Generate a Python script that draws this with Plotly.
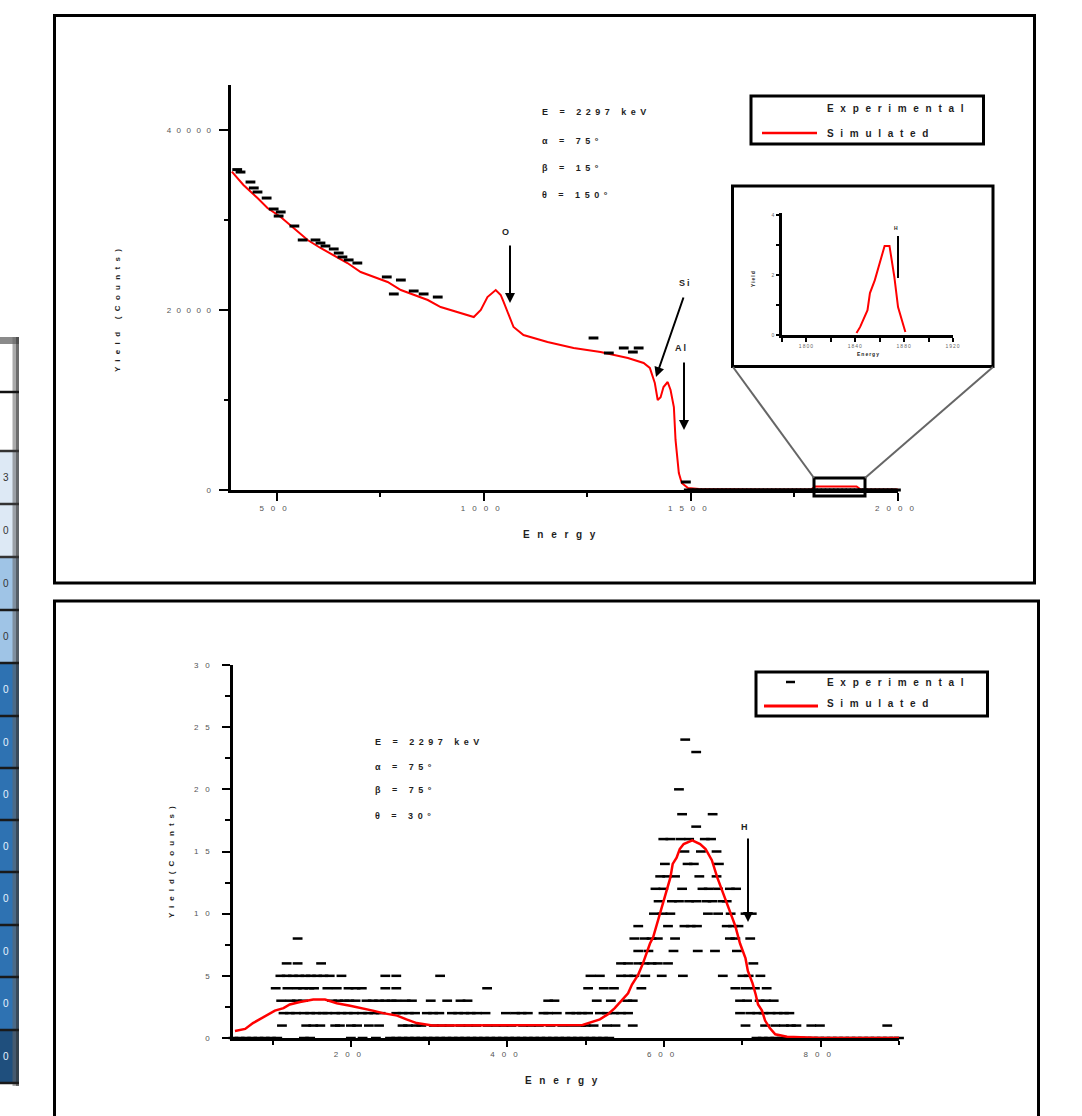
import plotly.graph_objects as go

W, H = 1082, 1116

# ---------------- data: top spectrum (E = 2297 keV, theta = 150) ----------------
sim_top_e = [392, 420, 454, 478, 510, 541, 575, 606, 638, 671, 703, 735, 768, 800, 831, 865, 896, 927,
             976, 993, 1009, 1029, 1041, 1048, 1058, 1072, 1096, 1154, 1217, 1282, 1348, 1386, 1401,
             1413, 1420, 1427, 1434, 1444, 1451, 1459, 1463, 1471, 1478, 1493, 1520, 1600, 1700, 1790,
             1800, 1850, 1900, 1910, 2000]
sim_top_y = [35370, 33890, 32440, 31330, 30330, 29110, 27780, 26890, 26110, 25220, 24220, 23670, 23110,
             22220, 21670, 21110, 20330, 19890, 19220, 20000, 21440, 22220, 21670, 20890, 19670, 18110,
             17220, 16440, 15780, 15330, 14670, 14110, 13560, 11890, 10000, 10300, 11440, 12000, 11110,
             9220, 5560, 1890, 780, 220, 100, 50, 50, 50, 400, 400, 400, 50, 50]

exp_top_e = [405, 413, 437, 445, 454, 476, 493, 505, 510, 543, 563, 594, 606, 618, 638, 650, 659, 674,
             695, 766, 783, 800, 831, 855, 889, 1265, 1302, 1338, 1360, 1374, 1488]
exp_top_y = [35600, 35330, 34220, 33560, 33110, 32440, 31220, 30440, 30890, 29330, 27780, 27780, 27440,
             27110, 26780, 26330, 25890, 25560, 25220, 23670, 21780, 23330, 22110, 21780, 21440, 16890,
             15220, 15780, 15330, 15780, 890]
exp_top_zero_e = [1495, 1505, 1515, 1525, 1535, 1545, 1555, 1565, 1575, 1585, 1595, 1605, 1615, 1625,
                  1635, 1645, 1655, 1665, 1675, 1685, 1695, 1705, 1715, 1725, 1735, 1745, 1755, 1765,
                  1775, 1785, 1795, 1805, 1815, 1825, 1835, 1845, 1855, 1865, 1875, 1885, 1895, 1905,
                  1915, 1925, 1935, 1945, 1955, 1965, 1975, 1985, 1995]

top_xticks = [500, 1000, 1500, 2000]
top_yticks = [0, 20000, 40000]

# inset (zoom of the boxed region)
inset_e = [1841, 1844, 1850, 1852, 1856, 1859, 1862, 1864, 1868, 1870, 1872, 1875, 1878, 1881]
inset_y = [0.07, 0.27, 0.83, 1.4, 1.83, 2.27, 2.67, 2.97, 2.97, 2.5, 1.93, 0.93, 0.5, 0.1]
inset_xticks = [1800, 1840, 1880, 1920]
inset_yticks = [0, 2, 4]

# ---------------- data: bottom spectrum (E = 2297 keV, theta = 30) ----------------
sim_bot_e = [52, 65, 75, 87, 95, 103, 114, 122, 135, 152, 167, 182, 199, 215, 228, 241, 259, 271, 284,
             304, 369, 454, 496, 518, 528, 537, 546, 554, 559, 567, 573, 578, 582, 586, 591, 595, 599,
             604, 608, 611, 616, 620, 625, 636, 646, 653, 661, 668, 674, 680, 687, 691, 697, 704, 707,
             713, 717, 720, 725, 729, 735, 742, 757, 800, 900]
sim_bot_y = [0.56, 0.73, 1.2, 1.6, 1.9, 2.2, 2.4, 2.7, 2.9, 3.1, 3.1, 2.8, 2.6, 2.4, 2.2, 2.0, 1.8, 1.5,
             1.2, 1.0, 1.0, 1.0, 1.05, 1.5, 1.9, 2.4, 3.0, 3.6, 4.3, 5.1, 6.0, 7.0, 7.6, 8.1, 9.2, 10.0,
             11.0, 12.1, 12.9, 14.0, 14.5, 15.2, 15.6, 15.9, 15.6, 15.2, 14.3, 12.9, 11.9, 11.0, 9.8, 9.0,
             7.6, 6.4, 5.4, 4.4, 3.5, 2.7, 2.2, 1.4, 0.8, 0.3, 0.1, 0.0, 0.0]

cnt0_e = [50, 58, 66, 74, 82, 90, 98, 106, 140, 148, 200, 215, 232,
          250, 258, 266, 274, 282, 290, 298, 306, 314, 322, 330, 338, 346, 354, 362, 370, 378, 386, 394,
          402, 410, 418, 426, 434, 442, 450, 458, 466, 474, 482, 490, 498, 506, 514, 522, 530,
          718, 726, 734, 742, 750, 758, 766, 774, 782, 790, 798, 806, 814, 822, 830, 838, 846, 854, 862,
          870, 878, 886, 894, 900]
cnt1_e = [112, 143, 152, 161, 180, 186, 200, 208, 223, 236, 266, 273, 283, 290, 306, 316, 326, 340, 350,
          360, 375, 385, 395, 405, 420, 430, 440, 455, 470, 482, 494, 500, 510, 527, 538, 560, 704, 729,
          742, 753, 762, 769, 788, 799, 885]
cnt2_e = [114, 122, 130, 140, 148, 156, 164, 170, 180, 188, 196, 204, 214, 222, 230, 238, 258, 266, 274,
          282, 297, 305, 313, 329, 337, 345, 353, 361, 372, 398, 410, 418, 426, 446, 452, 463, 480, 488,
          495, 503, 518, 527, 536, 545, 554, 697, 710, 719, 727, 736, 745, 753, 760]
cnt3_e = [111, 123, 131, 139, 176, 184, 192, 198, 206, 220, 228, 236, 244, 252, 258, 270, 278, 302, 323,
          340, 349, 452, 460, 514, 532, 553, 560, 697, 706, 722, 730, 740]
cnt4_e = [104, 119, 131, 139, 147, 153, 170, 182, 197, 206, 214, 244, 258, 374, 503, 523, 536, 571, 691,
          704, 716, 731]
cnt5_e = [110, 118, 126, 134, 142, 149, 157, 165, 173, 188, 244, 258, 314, 506, 518, 545, 554, 562, 576,
          597, 624, 675, 700, 708, 723]
cnt6_e = [118, 132, 162, 545, 554, 567, 575, 584, 592, 605, 714]
cnt7_e = [567, 580, 612, 643, 665, 693]
cnt8_e = [132, 562, 575, 584, 592, 614, 684, 691, 710]
cnt9_e = [567, 605, 626, 634, 642, 680, 688, 695]
cnt10_e = [587, 598, 608, 656, 669, 685, 704, 712]
cnt11_e = [593, 610, 619, 632, 641, 654, 662, 675, 680]
cnt12_e = [589, 599, 623, 649, 657, 669, 684, 692]
cnt13_e = [595, 604, 614, 645, 667]
cnt14_e = [601, 630, 638, 670]
cnt15_e = [626, 647, 667]
cnt16_e = [599, 608, 621, 632, 652, 660]
cnt17_e = [641]
cnt18_e = [623, 662]
cnt20_e = [619]
cnt23_e = [641]
cnt24_e = [627]

bot_xticks = [200, 400, 600, 800]
bot_yticks = [0, 5, 10, 15, 20, 25, 30]

# partial table at the left edge
table_digits = ["3", "0", "0", "0", "0", "0", "0", "0", "0", "0", "0", "0"]

# ---------------- build ----------------
rows = [(0, cnt0_e), (1, cnt1_e), (2, cnt2_e), (3, cnt3_e), (4, cnt4_e), (5, cnt5_e), (6, cnt6_e),
        (7, cnt7_e), (8, cnt8_e), (9, cnt9_e), (10, cnt10_e), (11, cnt11_e), (12, cnt12_e),
        (13, cnt13_e), (14, cnt14_e), (15, cnt15_e), (16, cnt16_e), (17, cnt17_e), (18, cnt18_e),
        (20, cnt20_e), (23, cnt23_e), (24, cnt24_e)]
exp_bot_e, exp_bot_c = [], []
for c, es in rows:
    exp_bot_e += es
    exp_bot_c += [c] * len(es)


def fx(p):
    return p / W


def fy(p):
    return 1 - p / H


FONT = "Liberation Sans, Arial, sans-serif"
TXT = "#1e1e1e"


def sp(text, ls):
    return '<span style="letter-spacing:%spx">%s</span>' % (ls, text)


fig = go.Figure()

# top chart
fig.add_trace(go.Scatter(x=sim_top_e, y=sim_top_y, mode="lines", line=dict(color="#ff0000", width=2),
                         xaxis="x", yaxis="y", showlegend=False, cliponaxis=False))
fig.add_trace(go.Scatter(x=exp_top_e + exp_top_zero_e, y=exp_top_y + [0] * len(exp_top_zero_e),
                         mode="markers", xaxis="x", yaxis="y", showlegend=False, cliponaxis=False,
                         marker=dict(symbol="line-ew", size=7, line=dict(width=3, color="black"))))
# inset
fig.add_trace(go.Scatter(x=inset_e, y=inset_y, mode="lines", line=dict(color="#ff0000", width=2),
                         xaxis="x3", yaxis="y3", showlegend=False))
# bottom chart
fig.add_trace(go.Scatter(x=exp_bot_e, y=exp_bot_c, mode="markers", xaxis="x2", yaxis="y2",
                         showlegend=False, cliponaxis=False,
                         marker=dict(symbol="line-ew", size=7, line=dict(width=2.5, color="black"))))
fig.add_trace(go.Scatter(x=sim_bot_e, y=sim_bot_y, mode="lines", line=dict(color="#ff0000", width=2.5),
                         xaxis="x2", yaxis="y2", showlegend=False, cliponaxis=False))

tickfont = dict(family=FONT, size=8, color="#555")
common = dict(showline=True, linecolor="black", linewidth=3, ticks="outside", tickcolor="black",
              tickwidth=2, showgrid=False, zeroline=False, tickfont=tickfont, tickmode="array",
              automargin=False)


def lbl(vals, ls=7):
    return [sp(str(v), ls) for v in vals]


fig.update_layout(
    width=W, height=H, margin=dict(l=0, r=0, t=0, b=0, pad=0, autoexpand=False), autosize=False,
    paper_bgcolor="white", plot_bgcolor="rgba(0,0,0,0)",
    xaxis=dict(common, domain=[fx(231), fx(898)], range=[390, 2000], anchor="y",
               tickvals=top_xticks, ticktext=lbl(top_xticks), ticklen=8, ticklabelstandoff=0,
               minor=dict(tickvals=[750, 1250, 1750], ticks="outside", ticklen=4, tickwidth=2,
                          tickcolor="black")),
    yaxis=dict(common, domain=[fy(490), fy(85)], range=[0, 45000], anchor="x",
               tickvals=top_yticks, ticktext=lbl(top_yticks, 5.5), ticklen=9, ticklabelstandoff=1,
               minor=dict(tickvals=[10000, 30000], ticks="outside", ticklen=4, tickwidth=2,
                          tickcolor="black")),
    xaxis3=dict(common, domain=[fx(782), fx(953)], range=[1780, 1920], anchor="y3", linewidth=2.5,
                tickvals=inset_xticks, ticktext=lbl(inset_xticks, 1), ticklen=4,
                tickfont=dict(family=FONT, size=5, color="#666"),
                minor=dict(tickvals=[1780, 1820, 1860, 1900], ticks="outside", ticklen=4, tickwidth=2,
                           tickcolor="black")),
    yaxis3=dict(common, domain=[fy(335), fy(213)], range=[0, 4.07], anchor="x3", linewidth=2.5,
                tickvals=inset_yticks, ticktext=lbl(inset_yticks, 1), ticklen=3,
                tickfont=dict(family=FONT, size=5, color="#666"),
                minor=dict(tickvals=[1, 3], ticks="outside", ticklen=3, tickwidth=2, tickcolor="black")),
    xaxis2=dict(common, domain=[fx(233.4), fx(899)], range=[50, 900], anchor="y2",
                tickvals=bot_xticks, ticktext=lbl(bot_xticks), ticklen=6, ticklabelstandoff=0,
                minor=dict(tickvals=[100, 300, 500, 700, 900], ticks="outside", ticklen=4, tickwidth=2,
                           tickcolor="black")),
    yaxis2=dict(common, domain=[fy(1038), fy(665)], range=[0, 30], anchor="x2",
                tickvals=bot_yticks, ticktext=lbl(bot_yticks, 7), ticklen=8, ticklabelstandoff=4,
                minor=dict(tickvals=[2.5, 7.5, 12.5, 17.5, 22.5, 27.5], ticks="outside", ticklen=5,
                           tickwidth=2, tickcolor="black")),
)

shapes = []


def rect(x0, y0, x1, y1, color="black", width=3, fill=None, layer="above"):
    shapes.append(dict(type="rect", xref="paper", yref="paper", x0=fx(x0), x1=fx(x1), y0=fy(y1),
                       y1=fy(y0), line=dict(color=color, width=width),
                       fillcolor=fill if fill else "rgba(0,0,0,0)", layer=layer))


def seg(x0, y0, x1, y1, color="black", width=2):
    shapes.append(dict(type="line", xref="paper", yref="paper", x0=fx(x0), x1=fx(x1), y0=fy(y0),
                       y1=fy(y1), line=dict(color=color, width=width)))


# outer frames (the lower one runs past the bottom edge of the page)
rect(54.5, 15.5, 1034.5, 583, width=3)
rect(54.5, 601, 1038.5, 1130, width=3)
# top legend box & line
rect(751, 96, 983.5, 144, width=3)
seg(762, 133, 817, 133, color="#ff0000", width=2.5)
# bottom legend box, marker & line
rect(756, 672, 987.5, 716, width=3)
seg(786, 682, 795, 682, color="black", width=2.5)
seg(764, 706, 818, 706, color="#ff0000", width=3)
# inset frame, zoom box and connectors
rect(732.5, 186, 993, 366.5, width=3)
rect(814, 478, 865, 496, width=3)
seg(733, 367, 814, 478, color="#666", width=2)
seg(993, 367, 865, 478, color="#666", width=2)
seg(898, 236, 898, 278, color="black", width=2)

# left partial table
row_edges = [451, 504, 557, 610, 663, 716, 768, 820, 872, 925, 977, 1030, 1083]
row_fill = ["#dde9f5", "#dde9f5", "#9fc4e6", "#9fc4e6", "#2e72b2", "#2e72b2", "#2e72b2", "#2e72b2",
            "#2e72b2", "#2e72b2", "#2e72b2", "#1f4f7d"]
shapes.append(dict(type="rect", xref="paper", yref="paper", x0=0, x1=fx(19), y0=fy(344), y1=fy(337),
                   line=dict(width=0), fillcolor="#8a8a8a"))
for i in range(len(row_fill)):
    shapes.append(dict(type="rect", xref="paper", yref="paper", x0=0, x1=fx(19), y0=fy(row_edges[i + 1]),
                       y1=fy(row_edges[i]), line=dict(width=0), fillcolor=row_fill[i]))
shapes.append(dict(type="rect", xref="paper", yref="paper", x0=fx(12.5), x1=fx(16), y0=fy(1086), y1=fy(337),
                   line=dict(width=0), fillcolor="rgba(100,100,100,0.55)"))
shapes.append(dict(type="rect", xref="paper", yref="paper", x0=fx(16), x1=fx(19), y0=fy(1086), y1=fy(337),
                   line=dict(width=0), fillcolor="rgba(60,60,60,0.75)"))
seg(0, 392, 19, 392, color="#111", width=2.5)
for e in row_edges:
    seg(0, e, 19, e, color="#1a1a1a" if e > 600 else "#333", width=2.5)

fig.update_layout(shapes=shapes)

ann = []


def note(text, x, y, size=9, bold=False, xanchor="left", ls=4, angle=0, color=TXT):
    t = sp(text, ls) if ls else text
    if bold:
        t = "<b>" + t + "</b>"
    ann.append(dict(text=t, x=fx(x), y=fy(y), xref="paper", yref="paper", showarrow=False,
                    xanchor=xanchor, yanchor="middle", textangle=angle,
                    font=dict(family=FONT, size=size, color=color)))


def arrow(x0, y0, x1, y1):
    ann.append(dict(text="", x=fx(x1), y=fy(y1), xref="paper", yref="paper", showarrow=True,
                    ax=x0 - x1, ay=y0 - y1, axref="pixel", ayref="pixel", arrowhead=2, arrowsize=1,
                    arrowwidth=2, arrowcolor="black", standoff=0, startstandoff=0))


# top chart texts
note("E = 2297 keV", 540, 112, size=9, bold=True, ls=4.5)
note("α = 75°", 540, 141, size=9, bold=True, ls=4.5)
note("β = 15°", 540, 168, size=9, bold=True, ls=4.5)
note("θ = 150°", 540, 195, size=9, bold=True, ls=4.5)
note("Experimental", 825, 108, size=10, bold=True, ls=6.7)
note("Simulated", 825, 133, size=10, bold=True, ls=6.7)
note("Energy", 563, 535, size=10, bold=True, xanchor="center", ls=7.7)
note("Yield (Counts)", 117, 308, size=8, bold=True, xanchor="center", ls=5.3, angle=-90)
note("O", 505, 232, size=9, bold=True, xanchor="center", ls=0)
note("Si", 685, 283, size=9, bold=True, xanchor="center", ls=2)
note("Al", 681, 348, size=9, bold=True, xanchor="center", ls=2)
arrow(510, 244, 510, 303)
arrow(684, 296, 656, 377)
arrow(684, 361, 684, 430)
# inset texts
note("Yield", 753, 279, size=5, bold=True, xanchor="center", ls=1, angle=-90)
note("Energy", 868, 354, size=5, bold=True, xanchor="center", ls=1)
note("H", 896, 228, size=5, bold=True, xanchor="center", ls=0)

# bottom chart texts
note("E = 2297 keV", 373, 742, size=9, bold=True, ls=4.5)
note("α = 75°", 373, 767, size=9, bold=True, ls=4.5)
note("β = 75°", 373, 790, size=9, bold=True, ls=4.5)
note("θ = 30°", 373, 816, size=9, bold=True, ls=4.5)
note("Experimental", 825, 682, size=10, bold=True, ls=6.7)
note("Simulated", 825, 703, size=10, bold=True, ls=6.7)
note("Energy", 565, 1080, size=10, bold=True, xanchor="center", ls=7.7)
note("Yield(Counts)", 172, 860, size=8, bold=True, xanchor="center", ls=5, angle=-90)
note("H", 744, 827, size=9, bold=True, xanchor="center", ls=0)
arrow(748, 837, 748, 922)

# digits in the cut-off table
for i, d in enumerate(table_digits):
    yc = (row_edges[i] + row_edges[i + 1]) / 2
    note(d, 6, yc, size=10, bold=False, xanchor="center", ls=0,
         color="#333" if i < 4 else "#e6f2ff")

fig.update_layout(annotations=ann)
fig.write_html("out.html", config={"responsive": False},
               post_script="document.documentElement.style.overflow='hidden';"
                           "document.body.style.overflow='hidden';document.body.style.margin='0';")
